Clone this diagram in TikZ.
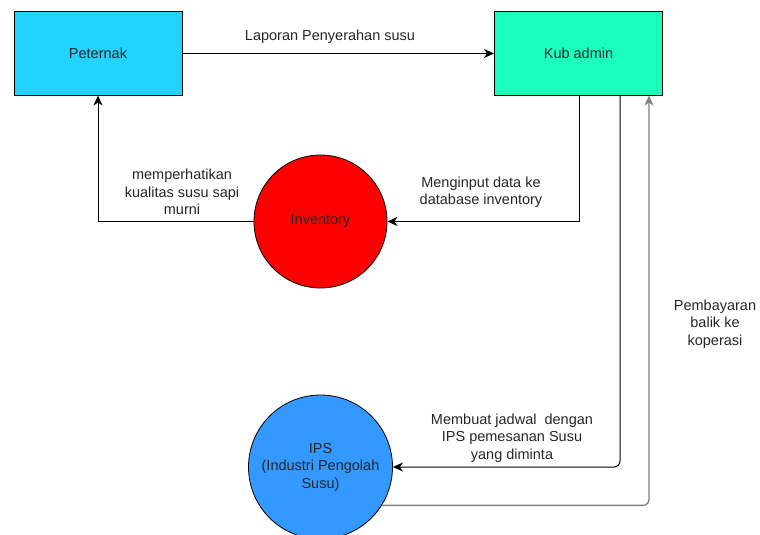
\documentclass[tikz,border=0pt]{standalone}
\usepackage{fontspec}
\setmainfont{Liberation Sans}
\usetikzlibrary{arrows.meta,calc,positioning}
\definecolor{SkyCyan}{RGB}{34,211,255}
\definecolor{MintGreen}{RGB}{26,255,190}
\definecolor{PureRed}{RGB}{255,0,0}
\definecolor{OceanBlue}{RGB}{51,153,255}
\definecolor{PayGray}{RGB}{128,128,128}

\begin{document}
\begin{tikzpicture}[x=1pt,y=-1pt,>={Stealth[length=10pt,width=9pt,inset=3pt]},
  font=\fontsize{14.5}{17.5}\selectfont,text=black!85,
  entity/.style={draw,line width=1pt,minimum width=168pt,minimum height=83pt},
  proc/.style={draw,circle,line width=0.8pt,inner sep=0pt,align=center},
  flow/.style={->,line width=1pt},
  lbl/.style={align=center}]
\useasboundingbox (0,0) rectangle (760,535);
\node[entity,fill=SkyCyan] (peternak) at (98,53.5) {Peternak};
\node[entity,fill=MintGreen] (kub) at (578.5,53.5) {Kub admin};
\node[proc,fill=PureRed,minimum size=133pt] (inventory) at (320.5,221.5) {Inventory};
\node[proc,fill=OceanBlue,minimum size=144pt] (ips) at (320.5,467) {IPS\\(Industri Pengolah\\Susu)};

% alur data
\draw[flow] (peternak) -- (kub);
\draw[flow] ($(kub.south west)+(85,0)$) |- (inventory);
\draw[flow] (inventory) -| (peternak);
\draw[flow,rounded corners=6pt] ($(kub.south west)+(126,0)$) |- (ips);
\draw[flow,draw=PayGray,line width=1.3pt,rounded corners=6pt] (ips.-32.8) -| ($(kub.south west)+(155,0)$);

% keterangan
\node[lbl] (laporan) at (330,37) {Laporan Penyerahan susu};
\node[lbl] (kualitas) at (182,192) {memperhatikan\\kualitas susu sapi\\murni};
\node[lbl] (input) at (481,192) {Menginput data ke\\database inventory};
\node[lbl] (jadwal) at (512,438) {Membuat jadwal\ \ dengan\\IPS pemesanan Susu\\yang diminta};
\node[lbl] (bayar) at (715,324) {Pembayaran\\balik ke\\koperasi};
\end{tikzpicture}
\end{document}
